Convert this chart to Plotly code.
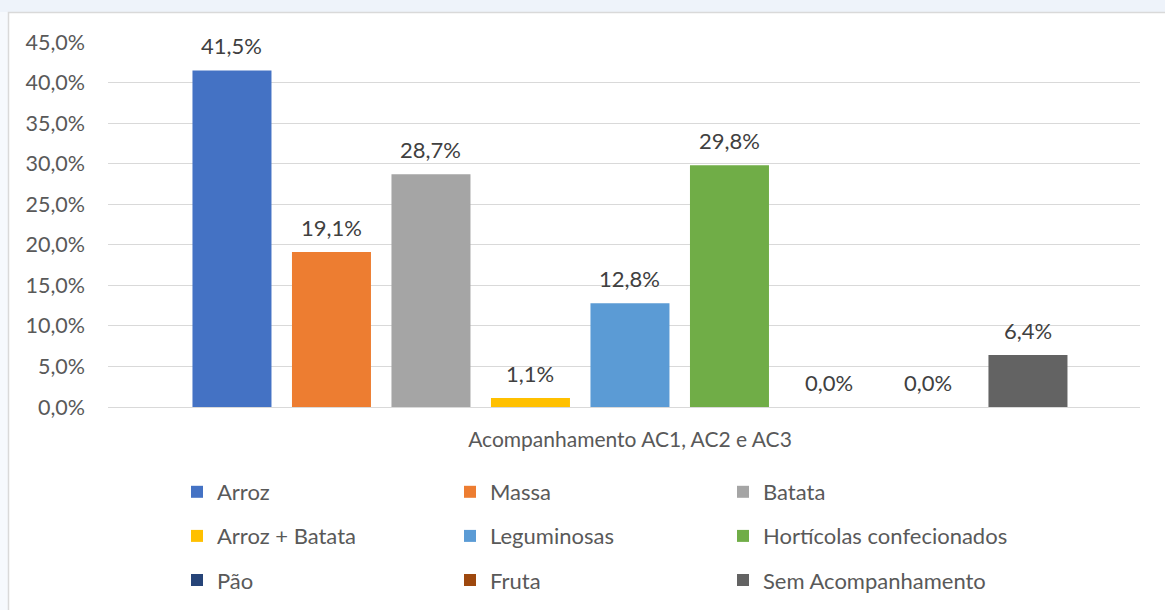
import plotly.graph_objects as go

category = ["Acompanhamento AC1, AC2 e AC3"]
series_names = ["Arroz", "Massa", "Batata", "Arroz + Batata", "Leguminosas",
                "Hortícolas confecionados", "Pão", "Fruta", "Sem Acompanhamento"]
series_values = [41.5, 19.1, 28.7, 1.1, 12.8, 29.8, 0.0, 0.0, 6.4]
series_colors = ["#4472C4", "#ED7D31", "#A5A5A5", "#FFC000", "#5B9BD5",
                 "#70AD47", "#264478", "#9E480E", "#636363"]
legend_ids = ["legend", "legend2", "legend3", "legend", "legend2", "legend3",
              "legend", "legend2", "legend3"]

W, H = 1165, 610
ML, MR, MT, MB = 108, 25, 42, 203
PW = W - ML - MR
PH = H - MT - MB

def px(x):
    return (x - ML) / PW

def py(y):
    return (H - MB - y) / PH

FONT = "Lato"
positions = list(range(len(series_names)))
fig = go.Figure()
annotations = []
for pos, name, val, col, lg in zip(positions, series_names, series_values, series_colors, legend_ids):
    fig.add_trace(go.Bar(
        x=[pos], y=[val], name=name, marker_color=col, marker_line_width=0,
        width=0.794, legend=lg, legendgroup=name, hoverinfo="name+y",
    ))
    annotations.append(dict(
        x=pos, y=val, xref="x", yref="y", text=f"{val:.1f}%".replace(".", ","),
        showarrow=False, yanchor="middle", yshift=25,
        font=dict(family=FONT, size=22, color="#404040"),
    ))

leg_common = dict(orientation="v", xanchor="left", yanchor="top",
                  tracegroupgap=12.5,
                  font=dict(family=FONT, size=22, color="#595959"),
                  bgcolor="rgba(0,0,0,0)", itemwidth=30, traceorder="grouped")

LEG_TOP = 471
center = (len(series_names) - 1) / 2
fig.update_layout(
    width=W, height=H,
    margin=dict(l=ML, r=MR, t=MT, b=MB, autoexpand=False),
    paper_bgcolor="white", plot_bgcolor="white",
    barmode="overlay",
    separators=",.",
    showlegend=True,
    legend=dict(x=px(177), y=py(LEG_TOP), **leg_common),
    legend2=dict(x=px(450), y=py(LEG_TOP), **leg_common),
    legend3=dict(x=px(723), y=py(LEG_TOP), **leg_common),
    xaxis=dict(range=[-1.246, 9.126], tickvals=[center], ticktext=category,
               showgrid=False, showline=False, zeroline=False, ticks="",
               ticklabelstandoff=18,
               tickfont=dict(family=FONT, size=21, color="#595959")),
    yaxis=dict(range=[0, 45], dtick=5, tickformat=".1f", ticksuffix="%",
               showgrid=True, gridcolor="#d9d9d9", gridwidth=1.3,
               zeroline=True, zerolinecolor="#d9d9d9", zerolinewidth=1.3,
               showline=False, ticks="", ticklabelstandoff=22,
               tickfont=dict(family=FONT, size=21.5, color="#595959")),
    annotations=annotations,
    shapes=[
        dict(type="rect", xref="paper", yref="paper", layer="below",
             x0=px(-5), x1=px(W + 5), y0=py(12), y1=py(-5),
             fillcolor="#eef3fa", line_width=0),
        dict(type="rect", xref="paper", yref="paper", layer="below",
             x0=px(-5), x1=px(8), y0=py(H + 5), y1=py(12),
             fillcolor="#f6f9fd", line_width=0),
        dict(type="rect", xref="paper", yref="paper", layer="below",
             x0=px(8.5), x1=px(W + 10), y0=py(H + 10), y1=py(12.5),
             fillcolor="rgba(0,0,0,0)", line=dict(color="#d9d9d9", width=1.5)),
    ],
)

fig.write_html("out.html", config={"displayModeBar": False},
               post_script="document.body.style.margin='0';document.body.style.overflow='hidden';")
